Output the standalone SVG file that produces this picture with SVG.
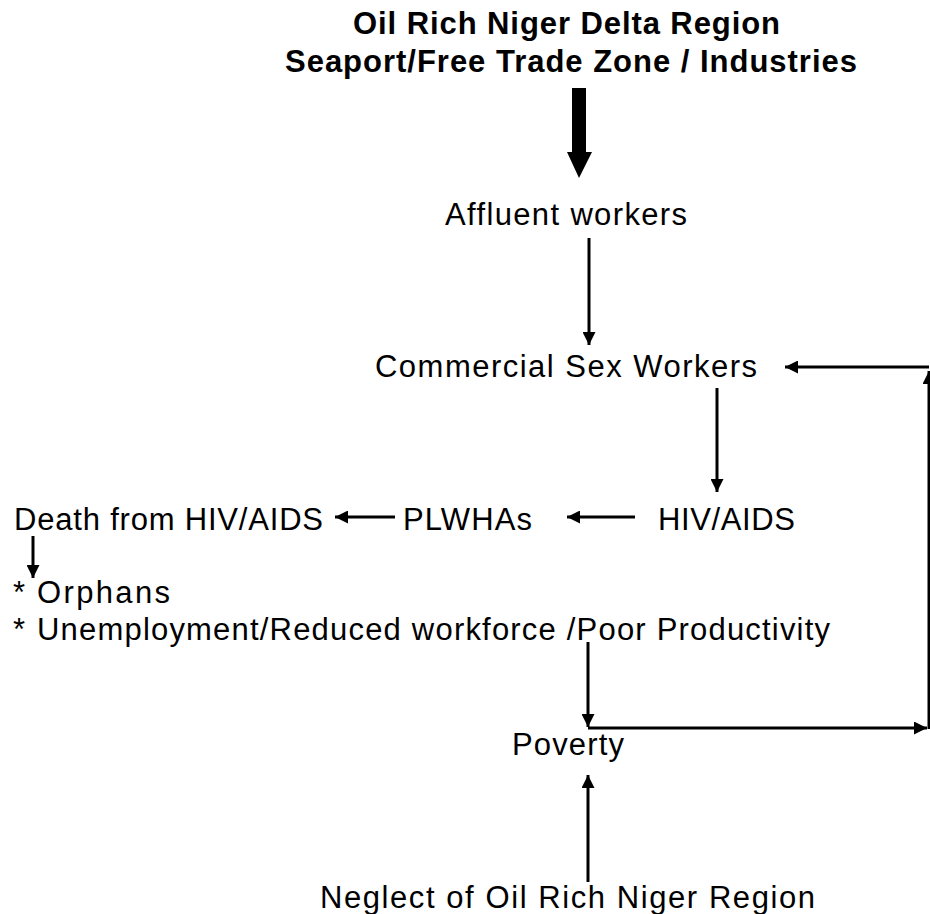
<svg xmlns="http://www.w3.org/2000/svg" width="930" height="914" viewBox="0 0 930 914">
<style>
text{font-family:"Liberation Sans",Arial,sans-serif;font-size:31px;fill:#000}
.b{font-weight:bold}
.ln{stroke:#000;stroke-width:3;fill:none}
</style>
<defs>
<marker id="ah" viewBox="0 0 10 10" refX="10" refY="5" markerWidth="15" markerHeight="13" markerUnits="userSpaceOnUse" orient="auto">
<path d="M0,0 L10,5 L0,10 Z" fill="#000"/>
</marker>
</defs>
<rect width="930" height="914" fill="#fff"/>
<g id="title">
<text class="b" x="353" y="34" textLength="427" lengthAdjust="spacing">Oil Rich Niger Delta Region</text>
<text class="b" x="285" y="72" textLength="572" lengthAdjust="spacing">Seaport/Free Trade Zone / Industries</text>
</g>
<g id="affluent"><text x="445" y="225" textLength="242" lengthAdjust="spacing">Affluent workers</text></g>
<g id="csw"><text x="375" y="377" textLength="382" lengthAdjust="spacing">Commercial Sex Workers</text></g>
<g id="death"><text x="14" y="530" textLength="309" lengthAdjust="spacing">Death from HIV/AIDS</text></g>
<g id="plwhas"><text x="403" y="530" textLength="129" lengthAdjust="spacing">PLWHAs</text></g>
<g id="hiv"><text x="658" y="530" textLength="137" lengthAdjust="spacing">HIV/AIDS</text></g>
<g id="effects">
<text x="13" y="603">*</text>
<text x="37" y="603" textLength="133" lengthAdjust="spacing">Orphans</text>
<text x="13" y="640">*</text>
<text x="37" y="640" textLength="793" lengthAdjust="spacing">Unemployment/Reduced workforce /Poor Productivity</text>
</g>
<g id="poverty"><text x="512" y="755" textLength="112" lengthAdjust="spacing">Poverty</text></g>
<g id="neglect"><text x="320" y="908" textLength="495" lengthAdjust="spacing">Neglect of Oil Rich Niger Region</text></g>
<g id="connectors">
<path d="M572,88 H586 V152 H592 L579,178 L567,152 H572 Z" fill="#000"/>
<line class="ln" x1="589" y1="238" x2="589" y2="345" marker-end="url(#ah)"/>
<line class="ln" x1="717" y1="388" x2="717" y2="492" marker-end="url(#ah)"/>
<line class="ln" x1="635" y1="517" x2="567" y2="517" marker-end="url(#ah)"/>
<line class="ln" x1="395" y1="517" x2="335" y2="517" marker-end="url(#ah)"/>
<line class="ln" x1="33" y1="536" x2="33" y2="578" marker-end="url(#ah)"/>
<line class="ln" x1="588" y1="642" x2="588" y2="727" marker-end="url(#ah)"/>
<line class="ln" x1="588" y1="728" x2="927" y2="728" marker-end="url(#ah)"/>
<line class="ln" x1="929" y1="729" x2="929" y2="371" marker-end="url(#ah)"/>
<line class="ln" x1="929" y1="367" x2="785" y2="367" marker-end="url(#ah)"/>
<line class="ln" x1="588" y1="882" x2="588" y2="775" marker-end="url(#ah)"/>
</g>
</svg>
